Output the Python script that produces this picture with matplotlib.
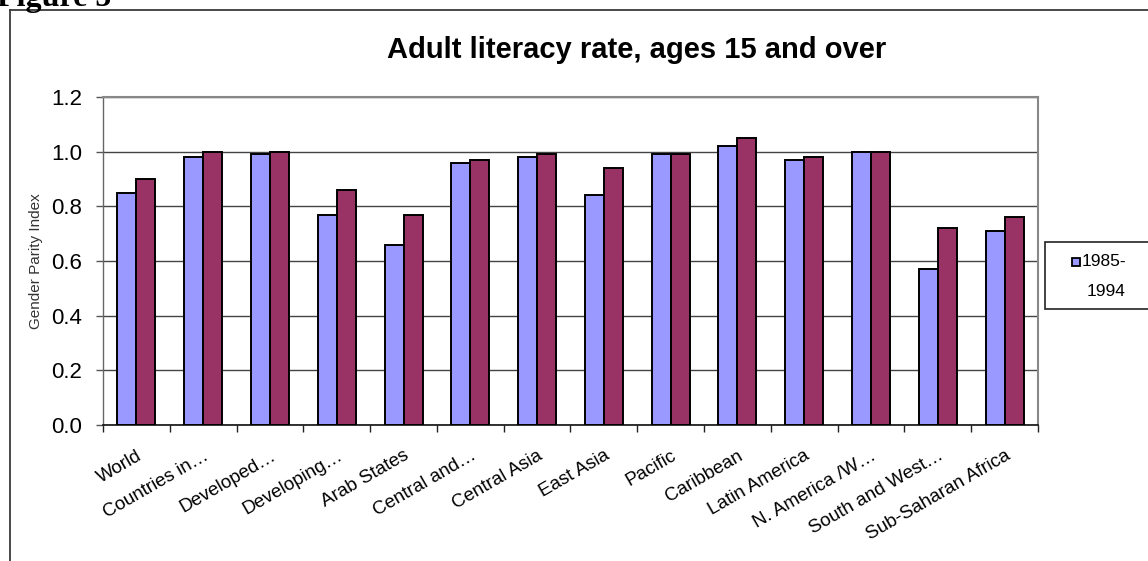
import matplotlib
matplotlib.use("Agg")
import matplotlib.pyplot as plt
import numpy as np
from matplotlib.patches import Rectangle
from matplotlib.lines import Line2D

categories = ["World", "Countries in…", "Developed…", "Developing…", "Arab States",
              "Central and…", "Central Asia", "East Asia", "Pacific", "Caribbean",
              "Latin America", "N. America /W…", "South and West…", "Sub-Saharan Africa"]
series_1985_1994 = [0.85, 0.98, 0.99, 0.77, 0.66, 0.96, 0.98, 0.84, 0.99, 1.02, 0.97, 1.00, 0.57, 0.71]
series_2000_2004 = [0.90, 1.00, 1.00, 0.86, 0.77, 0.97, 0.99, 0.94, 0.99, 1.05, 0.98, 1.00, 0.72, 0.76]
legend_label = "1985-\n1994"
yticks = [0.0, 0.2, 0.4, 0.6, 0.8, 1.0, 1.2]

plt.rcParams['font.family'] = ['Liberation Sans', 'DejaVu Sans']

W, H = 1148, 561
fig = plt.figure(figsize=(W / 100, H / 100), dpi=100)

# outer frame (top and left lines)
fig.add_artist(Line2D([10 / W, 10 / W], [0, 1 - 10 / H], transform=fig.transFigure,
                      color='#3a3a3a', lw=1.3))
fig.add_artist(Line2D([10 / W, 1], [1 - 10 / H, 1 - 10 / H], transform=fig.transFigure,
                      color='#3a3a3a', lw=1.3))
fig.text(-3 / W, 1 - 6 / H, "Figure 5", fontsize=23, fontweight='bold',
         family=['Liberation Serif', 'DejaVu Serif'], ha='left', va='baseline')

ax = fig.add_axes([103 / W, 1 - 425 / H, (1038 - 103) / W, (425 - 97) / H])

x = np.arange(len(categories))
bw = 0.285
ax.bar(x - bw / 2, series_1985_1994, width=bw, color='#9999FF', edgecolor='black',
       linewidth=1.4, zorder=3, label=legend_label)
ax.bar(x + bw / 2, series_2000_2004, width=bw, color='#993366', edgecolor='black',
       linewidth=1.4, zorder=3)

ax.set_xlim(-0.5, len(categories) - 0.5)
ax.set_ylim(0, 1.2)
ax.set_yticks(yticks)
ax.set_yticklabels([f"{v:.1f}" for v in yticks], fontsize=16)
ax.yaxis.grid(True, color='#444444', lw=1.0, zorder=0)
ax.tick_params(axis='y', length=5, width=1, color='#555555', pad=10)

ax.set_xticks(x)
ax.set_xticklabels(categories, rotation=30, ha='right', va='top',
                   rotation_mode='anchor', fontsize=13.5)
ax.tick_params(axis='x', which='major', length=0, pad=16)
ax.set_xticks(np.arange(len(categories) + 1) - 0.5, minor=True)
ax.tick_params(axis='x', which='minor', length=5, width=1, color='#222222')

for s in ['top', 'right']:
    ax.spines[s].set_color('#888888')
    ax.spines[s].set_linewidth(1.5)
ax.spines['left'].set_color('#666666')
ax.spines['left'].set_linewidth(1.0)
ax.spines['bottom'].set_color('#111111')
ax.spines['bottom'].set_linewidth(1.2)

ax.set_ylabel("Gender Parity Index", fontsize=11, color='#333333', labelpad=6)

fig.text(637 / W, 1 - 50 / H, "Adult literacy rate, ages 15 and over", fontsize=21,
         fontweight='bold', ha='center', va='center')

# legend box (pixel coordinates, y downward from box top)
lx, ly, lw_, lh = 1045, 242, 130, 67
leg_ax = fig.add_axes([lx / W, 1 - (ly + lh) / H, lw_ / W, lh / H])
leg_ax.set_xlim(0, lw_)
leg_ax.set_ylim(lh, 0)
leg_ax.axis('off')
leg_ax.add_patch(Rectangle((0, 0), lw_, lh, facecolor='white', edgecolor='#222222',
                           lw=1.2, clip_on=False))
leg_ax.add_patch(Rectangle((27, 16), 8, 8, facecolor='#9999FF', edgecolor='black',
                           lw=1.3, clip_on=False))
leg_ax.text(37, 20, "1985-", fontsize=12.5, va='center', ha='left')
leg_ax.text(42, 50, "1994", fontsize=12.5, va='center', ha='left')

fig.savefig("out.png", dpi=100, facecolor='white')
